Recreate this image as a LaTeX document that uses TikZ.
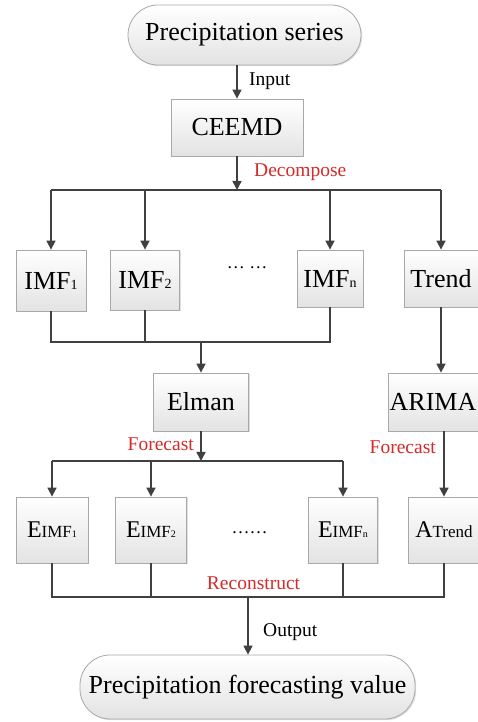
\documentclass[tikz,border=0pt]{standalone}
\usepackage{fontspec}
\setmainfont{Liberation Serif}
\usetikzlibrary{arrows.meta,shadows}
\definecolor{lncol}{HTML}{404040}
\definecolor{redc}{HTML}{D42A2A}
\definecolor{bord}{HTML}{A8A8A8}
\begin{document}
\begin{tikzpicture}[x=1pt,y=1pt,
  box/.style={draw=bord, line width=0.8pt, top color=white, bottom color=gray!22,
    drop shadow={shadow xshift=1.2pt, shadow yshift=-1.2pt, opacity=0.25},
    inner sep=0pt, font=\fontsize{26}{30}\selectfont},
  ebox/.style={box, font=\fontsize{24}{28}\selectfont, minimum height=66pt},
  pill/.style={box, rounded corners=30pt},
  conn/.style={draw=lncol, line width=1.6pt},
  arr/.style={conn, -{Triangle[length=9pt,width=9pt]}},
  lab/.style={font=\fontsize{19.5}{22}\selectfont, inner sep=0pt},
  rlab/.style={lab, text=redc},
  dots/.style={inner sep=0pt, font=\fontsize{18}{20}\selectfont}
]
\useasboundingbox (0,0) rectangle (478,722);
\fill[white] (0,0) rectangle (478,722);

% nodes
\node[pill, minimum width=233pt, minimum height=60pt] (pill1) at (244.5,687) {Precipitation series};
\node[box, minimum width=132pt, minimum height=57pt] (ceemd) at (237,594.5) {CEEMD};

\node[box, minimum width=70pt, minimum height=61pt] (imf1) at (51,441.5) {IMF{\fontsize{14}{14}\selectfont 1}};
\node[box, minimum width=69pt, minimum height=60pt] (imf2) at (145,442) {IMF{\fontsize{14}{14}\selectfont 2}};
\node[dots] (dotsa) at (247,454) {\char"2026\ \char"2026};
\node[box, minimum width=66pt, minimum height=57pt] (imfn) at (330,443.5) {IMF{\fontsize{14}{14}\selectfont n}};
\node[box, minimum width=74pt, minimum height=57pt] (trend) at (441,443.5) {Trend};

\node[box, minimum width=95pt, minimum height=58pt] (elman) at (201,320) {Elman};
\node[box, minimum width=90pt, minimum height=58pt] (arima) at (433,320) {ARIMA};

\node[ebox, minimum width=72pt] (e1) at (52,192) {E{\fontsize{17}{17}\selectfont IMF{\fontsize{10}{10}\selectfont 1}}};
\node[ebox, minimum width=71pt] (e2) at (151,192) {E{\fontsize{17}{17}\selectfont IMF{\fontsize{10}{10}\selectfont 2}}};
\node[dots] (dotsb) at (249.5,189) {\char"2026\char"2026};
\node[ebox, minimum width=69pt] (en) at (343,192) {E{\fontsize{17}{17}\selectfont IMF{\fontsize{10}{10}\selectfont n}}};
\node[ebox, minimum width=72pt] (at) at (444,192) {A{\fontsize{17}{17}\selectfont Trend}};

\node[pill, minimum width=335pt, minimum height=64pt] (pill2) at (247.5,35) {Precipitation forecasting value};

% connectors
\draw[arr] (pill1.south -| ceemd) -- (ceemd.north);
\node[lab, anchor=west] (linput) at (249,641) {Input};

\coordinate (d1) at (237,532);
\draw[arr] (ceemd.south) -- (d1);
\node[rlab, anchor=west] (ldec) at (254,550) {Decompose};
\draw[conn] (imf1 |- d1) -- (trend |- d1);
\foreach \n in {imf1,imf2,imfn,trend} \draw[arr] (\n |- d1) -- (\n.north);

\coordinate (m1) at (201,380);
\draw[conn] (imf1.south) -- (imf1 |- m1) -- (imfn |- m1) -- (imfn.south);
\draw[conn] (imf2.south) -- (imf2 |- m1);
\draw[arr] (m1) -- (elman.north);
\draw[arr] (trend.south) -- (trend.south |- arima.north);

\coordinate (d2) at (201,261);
\draw[arr] (elman.south) -- (d2);
\node[rlab, anchor=east] (lfc1) at (194,278) {Forecast};
\draw[conn] (e1 |- d2) -- (en |- d2);
\foreach \n in {e1,e2,en} \draw[arr] (\n |- d2) -- (\n.north);
\draw[arr] (arima.south -| at) -- (at.north);
\node[rlab, anchor=east] (lfc2) at (436,275) {Forecast};

\coordinate (m2) at (248,125);
\draw[conn] (e1.south) -- (e1 |- m2) -- (at |- m2) -- (at.south);
\draw[conn] (e2.south) -- (e2 |- m2);
\draw[conn] (en.south) -- (en |- m2);
\node[rlab] (lrec) at (253.5,139) {Reconstruct};
\draw[arr] (m2) -- (pill2.north -| m2);
\node[lab, anchor=west] (lout) at (263,90) {Output};
\end{tikzpicture}
\end{document}
